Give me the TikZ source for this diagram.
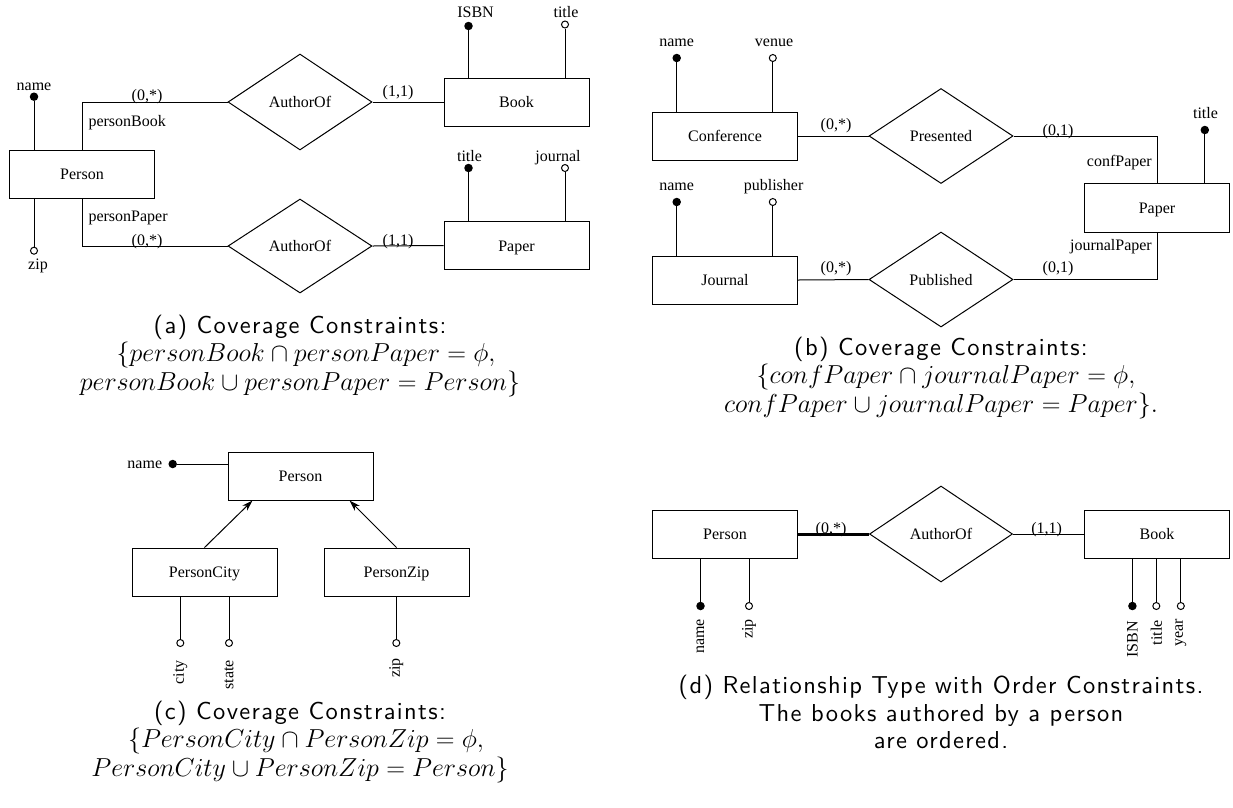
\RequirePackage{fix-cm}
\documentclass[tikz,border=0pt]{standalone}
\usepackage[no-math]{fontspec}
\setmainfont{Liberation Serif}
\newfontfamily\capfont{lmsans10-regular.otf}[LetterSpace=5.5]
\usetikzlibrary{shapes.geometric,arrows.meta}
\tikzset{
  lbl/.style={font=\fontsize{16}{19}\selectfont, inner sep=0pt},
  lblb/.style={lbl, anchor=base},
  rot/.style={lbl, rotate=90, anchor=east},
  ent/.style={draw, line width=1pt, minimum width=145pt, minimum height=48pt, inner sep=0pt,
    text height=11pt, text depth=0pt, font=\fontsize{16}{19}\selectfont},
  rel/.style={diamond, draw, line width=1pt, minimum width=144pt, minimum height=96pt, inner sep=0pt,
    text height=11pt, text depth=0pt, font=\fontsize{16}{19}\selectfont},
  keyatt/.style={circle, fill=black, inner sep=0pt, minimum size=8.5pt},
  optatt/.style={circle, draw, fill=white, line width=1pt, inner sep=0pt, minimum size=7pt},
  conn/.style={line width=1pt},
  capline/.style={font=\capfont\fontsize{24.5}{28}\selectfont, inner sep=0pt, anchor=base},
  capmath/.style={font=\fontsize{26}{28}\selectfont, inner sep=0pt, anchor=base},
  isa/.style={line width=1pt, -{Stealth[length=11pt,width=7pt]}}
}
\begin{document}
\begin{tikzpicture}[x=1pt,y=-1pt]
\useasboundingbox (0,0) rectangle (1233,807);
% ---------------- (a)
\node[ent] (pA) at (82,174) {Person};
\node[ent] (bookA) at (516.5,102) {Book};
\node[ent] (paperA) at (516.5,245.5) {Paper};
\node[rel] (rA1) at (300,102) {AuthorOf};
\node[rel, minimum height=94pt] (rA2) at (300,246) {AuthorOf};
\draw[conn] (pA.north) |- (rA1.west);
\draw[conn] (pA.south) |- (rA2.west);
\draw[conn] (rA1.east) -- (bookA.west);
\draw[conn] (rA2.east) -- (paperA.west);
\node[lbl] (cA1) at (147,97) {(0,*)};
\node[lbl] (cA2) at (147,241.5) {(0,*)};
\node[lbl] (cA3) at (398,92.5) {(1,1)};
\node[lbl] (cA4) at (398,242) {(1,1)};
\node[lbl, anchor=base west] (rolePB) at (88.3,126) {personBook};
\node[lbl, anchor=base west] (rolePP) at (88.3,221.7) {personPaper};
\node[keyatt] (aNameA) at (34,96.7) {};
\node[optatt] (aZipA) at (34,250.7) {};
\draw[conn] (aNameA) -- (aNameA |- pA.north);
\draw[conn] (aZipA) -- (aZipA |- pA.south);
\node[lblb] (tNameA) at (34,90) {name};
\node[lblb] (tZipA) at (38,269) {zip};
\node[keyatt] (aIsbnA) at (468.5,26) {};
\node[optatt] (aTitleA) at (565,24.5) {};
\draw[conn] (aIsbnA) -- (aIsbnA |- bookA.north);
\draw[conn] (aTitleA) -- (aTitleA |- bookA.north);
\node[lblb] (tIsbnA) at (475.5,17.5) {ISBN};
\node[lblb] (tTitleA) at (566,17.5) {title};
\node[keyatt] (aPTitleA) at (468.5,168) {};
\node[optatt] (aJournalA) at (565,168) {};
\draw[conn] (aPTitleA) -- (aPTitleA |- paperA.north);
\draw[conn] (aJournalA) -- (aJournalA |- paperA.north);
\node[lblb] (tPTitleA) at (469.5,161.5) {title};
\node[lblb] (tJournalA) at (558,161.5) {journal};
\node[capline] (capA1) at (300,333) {(a) Coverage Constraints:};
\node[capmath] (capA2) at (306,361.5) {$\{personBook\cap personPaper=\phi,$};
\node[capmath] (capA3) at (300,390) {$personBook\cup personPaper=Person\}$};
% ---------------- (b)
\node[ent] (confB) at (725,136) {Conference};
\node[ent] (journalB) at (725,280) {Journal};
\node[ent, minimum height=49pt] (paperB) at (1157,207.5) {Paper};
\node[rel, minimum height=95pt] (rB1) at (941,136) {Presented};
\node[rel, minimum height=95pt] (rB2) at (941,279.5) {Published};
\draw[conn] (confB.east) -- (rB1.west);
\draw[conn] (rB1.east) -| (paperB.north);
\draw[conn] (journalB.east) -- (rB2.west);
\draw[conn] (rB2.east) -| (paperB.south);
\node[lbl] (cB1) at (836,125.5) {(0,*)};
\node[lbl] (cB2) at (1058,131.5) {(0,1)};
\node[lbl] (cB3) at (836,269) {(0,*)};
\node[lbl] (cB4) at (1058,269) {(0,1)};
\node[lbl, anchor=base east] (roleCP) at (1152,166) {confPaper};
\node[lbl, anchor=base east] (roleJP) at (1152,250) {journalPaper};
\node[keyatt] (aNameB) at (676.7,58) {};
\node[optatt] (aVenueB) at (772.8,58) {};
\draw[conn] (aNameB) -- (aNameB |- confB.north);
\draw[conn] (aVenueB) -- (aVenueB |- confB.north);
\node[lblb] (tNameB) at (676.7,46) {name};
\node[lblb] (tVenueB) at (774,46) {venue};
\node[keyatt] (aNameJB) at (676.7,202) {};
\node[optatt] (aPubB) at (772.8,202) {};
\draw[conn] (aNameJB) -- (aNameJB |- journalB.north);
\draw[conn] (aPubB) -- (aPubB |- journalB.north);
\node[lblb] (tNameJB) at (676.7,190) {name};
\node[lblb] (tPubB) at (773.6,190) {publisher};
\node[keyatt] (aTitleB) at (1204.8,130) {};
\draw[conn] (aTitleB) -- (aTitleB |- paperB.north);
\node[lblb] (tTitleB) at (1205.5,118) {title};
\node[capline] (capB1) at (941,355) {(b) Coverage Constraints:};
\node[capmath] (capB2) at (946,383.5) {$\{confPaper\cap journalPaper=\phi,$};
\node[capmath] (capB3) at (941,412) {$confPaper\cup journalPaper=Paper\}.$};
% ---------------- (c)
\node[ent] (pC) at (300.5,476) {Person};
\node[ent] (cityC) at (204.5,572) {PersonCity};
\node[ent] (zipC) at (396.5,572) {PersonZip};
\draw[isa] (cityC.north) -- ([xshift=25pt]pC.south west);
\draw[isa] (zipC.north) -- ([xshift=-24pt]pC.south east);
\node[keyatt] (aNameC) at (172.7,464) {};
\draw[conn] (aNameC) -- (aNameC -| pC.west);
\node[lbl, anchor=base east] (tNameC) at (162.3,468.3) {name};
\node[optatt] (aCityC) at (180.3,643) {};
\node[optatt] (aStateC) at (229,643) {};
\node[optatt] (aZipC) at (396.3,643) {};
\draw[conn] (aCityC) -- (aCityC |- cityC.south);
\draw[conn] (aStateC) -- (aStateC |- cityC.south);
\draw[conn] (aZipC) -- (aZipC |- zipC.south);
\node[rot] (tCityC) at (180.3,660) {city};
\node[rot] (tStateC) at (229,660) {state};
\node[rot] (tZipC) at (396.3,658) {zip};
\node[capline] (capC1) at (300,719) {(c) Coverage Constraints:};
\node[capmath] (capC2) at (306,747.5) {$\{PersonCity\cap PersonZip=\phi,$};
\node[capmath] (capC3) at (300,776) {$PersonCity\cup PersonZip=Person\}$};
% ---------------- (d)
\node[ent] (pD) at (725,534) {Person};
\node[ent] (bookD) at (1157,534) {Book};
\node[rel, minimum width=143pt] (rD) at (941,534) {AuthorOf};
\draw[line width=3pt] (pD.east) -- (rD.west);
\draw[conn] (rD.east) -- (bookD.west);
\node[lbl] (cD1) at (831,530) {(0,*)};
\node[lbl] (cD2) at (1046.6,530) {(1,1)};
\node[keyatt] (aNameD) at (700.5,606) {};
\node[optatt] (aZipD) at (749,606) {};
\node[keyatt] (aIsbnD) at (1132.4,606) {};
\node[optatt] (aTitleD) at (1156.3,606) {};
\node[optatt] (aYearD) at (1180.8,606) {};
\draw[conn] (aNameD) -- (aNameD |- pD.south);
\draw[conn] (aZipD) -- (aZipD |- pD.south);
\draw[conn] (aIsbnD) -- (aIsbnD |- bookD.south);
\draw[conn] (aTitleD) -- (aTitleD |- bookD.south);
\draw[conn] (aYearD) -- (aYearD |- bookD.south);
\node[rot] (tNameD) at (700.5,619) {name};
\node[rot] (tZipD) at (749,619) {zip};
\node[rot] (tIsbnD) at (1132.4,621) {ISBN};
\node[rot] (tTitleD) at (1156.3,620) {title};
\node[rot] (tYearD) at (1180.8,619) {year};
\node[capline] (capD1) at (941,693) {(d) Relationship Type with Order Constraints.};
\node[capline] (capD2) at (941,721) {The books authored by a person};
\node[capline] (capD3) at (941,748) {are ordered.};
\end{tikzpicture}
\end{document}
